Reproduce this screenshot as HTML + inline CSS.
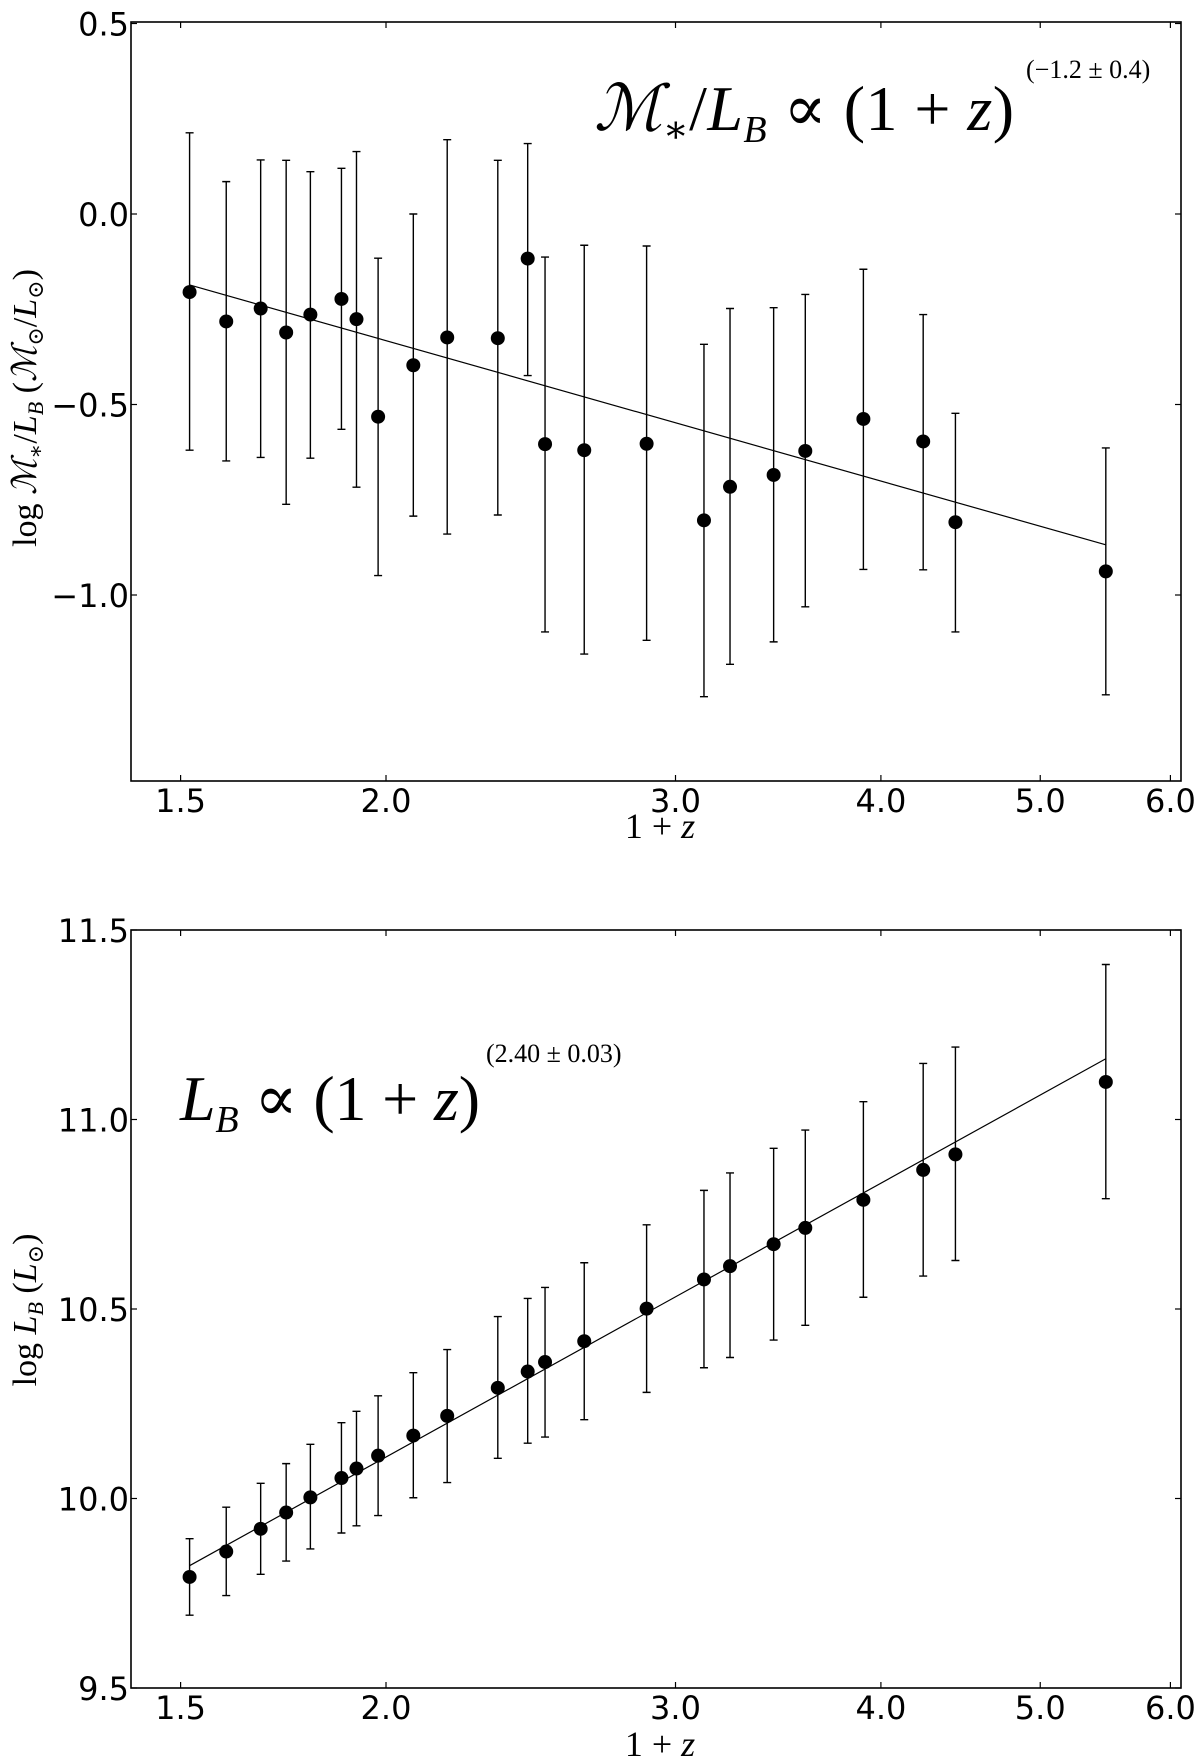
<!DOCTYPE html>
<html><head><meta charset="utf-8">
<style>
html,body{margin:0;padding:0;background:#fff;}
svg{display:block;}
.tick{font-family:"DejaVu Sans","Liberation Sans",sans-serif;font-size:32px;fill:#000;}
.math{font-family:"Liberation Serif","DejaVu Serif",serif;fill:#000;}
</style></head>
<body>
<svg id="fig" width="1200" height="1759" viewBox="0 0 1200 1759" xmlns="http://www.w3.org/2000/svg">
  <g id="top"></g>
  <g id="bot"></g>
  <text class="math" x="594" y="130" font-size="64" textLength="420" lengthAdjust="spacing"><tspan font-style="italic">ℳ</tspan><tspan font-size="38" dy="12">∗</tspan><tspan dy="-12">/</tspan><tspan font-style="italic">L</tspan><tspan font-style="italic" font-size="38" dy="12">B</tspan><tspan dy="-12"> ∝ (1 + </tspan><tspan font-style="italic">z</tspan><tspan>)</tspan></text>
  <text class="math" x="1026" y="78" font-size="26">(−1.2 ± 0.4)</text>
  <text class="math" x="180" y="1120" font-size="64" textLength="300" lengthAdjust="spacing"><tspan font-style="italic">L</tspan><tspan font-style="italic" font-size="38" dy="12">B</tspan><tspan dy="-12"> ∝ (1 + </tspan><tspan font-style="italic">z</tspan><tspan>)</tspan></text>
  <text class="math" x="486" y="1062" font-size="26">(2.40 ± 0.03)</text>
  <text class="math" x="660" y="838" font-size="36" text-anchor="middle">1 + <tspan font-style="italic">z</tspan></text>
  <text class="math" x="660" y="1756" font-size="36" text-anchor="middle">1 + <tspan font-style="italic">z</tspan></text>
  <text class="math" transform="translate(36,408) rotate(-90)" font-size="34" text-anchor="middle">log <tspan font-style="italic">ℳ</tspan><tspan font-size="22" dy="7">∗</tspan><tspan dy="-7">/</tspan><tspan font-style="italic">L</tspan><tspan font-style="italic" font-size="22" dy="7">B</tspan><tspan dy="-7"> (</tspan><tspan font-style="italic">ℳ</tspan><tspan font-size="22" dy="7">⊙</tspan><tspan dy="-7">/</tspan><tspan font-style="italic">L</tspan><tspan font-size="22" dy="7">⊙</tspan><tspan dy="-7">)</tspan></text>
  <text class="math" transform="translate(36,1310) rotate(-90)" font-size="34" text-anchor="middle">log <tspan font-style="italic">L</tspan><tspan font-style="italic" font-size="22" dy="7">B</tspan><tspan dy="-7"> (</tspan><tspan font-style="italic">L</tspan><tspan font-size="22" dy="7">⊙</tspan><tspan dy="-7">)</tspan></text>
</svg>
<script>
const xVals = [1.519,1.599,1.678,1.739,1.799,1.879,1.919,1.978,2.078,2.179,2.339,2.439,2.499,2.640,2.881,3.122,3.238,3.442,3.598,3.903,4.244,4.440,5.481];
const mlVals = [-0.205,-0.282,-0.248,-0.311,-0.264,-0.223,-0.276,-0.532,-0.397,-0.324,-0.326,-0.117,-0.604,-0.620,-0.603,-0.804,-0.716,-0.685,-0.622,-0.538,-0.597,-0.809,-0.938];
const mlUpper = [0.213,0.085,0.142,0.141,0.111,0.120,0.164,-0.116,0.0,0.195,0.141,0.185,-0.113,-0.082,-0.084,-0.342,-0.248,-0.246,-0.211,-0.145,-0.264,-0.523,-0.614];
const mlLower = [-0.620,-0.648,-0.639,-0.762,-0.641,-0.565,-0.717,-0.949,-0.793,-0.840,-0.790,-0.424,-1.097,-1.155,-1.119,-1.267,-1.182,-1.123,-1.031,-0.933,-0.934,-1.097,-1.262];
const lbVals = [9.793,9.860,9.920,9.963,10.003,10.054,10.079,10.113,10.166,10.218,10.292,10.335,10.360,10.415,10.501,10.578,10.613,10.671,10.714,10.788,10.867,10.908,11.099];
const lbUpper = [9.894,9.977,10.040,10.092,10.143,10.200,10.230,10.271,10.332,10.393,10.480,10.528,10.557,10.622,10.722,10.813,10.859,10.924,10.972,11.047,11.148,11.191,11.409];
const lbLower = [9.692,9.744,9.800,9.835,9.867,9.909,9.928,9.955,10.002,10.042,10.106,10.146,10.162,10.208,10.280,10.345,10.372,10.418,10.457,10.531,10.587,10.628,10.791];
const xTicks = [1.5,2.0,3.0,4.0,5.0,6.0];
const xTickLabels = ["1.5","2.0","3.0","4.0","5.0","6.0"];
const mlTicks = [0.5,0.0,-0.5,-1.0];
const mlTickLabels = ["0.5","0.0","\u22120.5","\u22121.0"];
const lbTicks = [11.5,11.0,10.5,10.0,9.5];
const lbTickLabels = ["11.5","11.0","10.5","10.0","9.5"];
const mlFit = [0.036,-1.224];
const lbFit = [9.387,2.40];

const NS="http://www.w3.org/2000/svg";
function mk(parent,tag,attrs){const e=document.createElementNS(NS,tag);for(const k in attrs)e.setAttribute(k,attrs[k]);parent.appendChild(e);return e;}
const L=131, R=1181;
function xs(v){return 180.6+714*Math.log(v/1.5);}

function panel(g,top,bottom,y0px,y0val,ppu,vals,up,lo,fit,ticks,tickLabels,pfx){
  const ys=v=>y0px-(v-y0val)*ppu;
  const fr=mk(g,'rect',{x:L,y:top,width:R-L,height:bottom-top,fill:'none',stroke:'#000','stroke-width':1.6});
  
  
  xTicks.forEach((t,i)=>{
    const x=xs(t);
    const a=mk(g,'line',{x1:x,x2:x,y1:bottom,y2:bottom-6,stroke:'#000','stroke-width':1.2});
    
    
    const b=mk(g,'line',{x1:x,x2:x,y1:top,y2:top+6,stroke:'#000','stroke-width':1.2});
    
    
    const tx=mk(g,'text',{x:x,y:bottom+31,'text-anchor':'middle','class':'tick'});
    tx.textContent=xTickLabels[i];
    
    
  });
  ticks.forEach((t,i)=>{
    const y=ys(t);
    const a=mk(g,'line',{x1:L,x2:L+6,y1:y,y2:y,stroke:'#000','stroke-width':1.2});
    
    
    const b=mk(g,'line',{x1:R,x2:R-6,y1:y,y2:y,stroke:'#000','stroke-width':1.2});
    
    
    const tx=mk(g,'text',{x:L-2,y:y+12,'text-anchor':'end','class':'tick'});
    tx.textContent=tickLabels[i];
    
    
  });
  const x1=xVals[0], x2=xVals[xVals.length-1];
  const fl=mk(g,'line',{x1:xs(x1),x2:xs(x2),y1:ys(fit[0]+fit[1]*Math.log10(x1)),y2:ys(fit[0]+fit[1]*Math.log10(x2)),stroke:'#000','stroke-width':1.2});
  
  
  xVals.forEach((xv,i)=>{
    const x=xs(xv);
    const eb=mk(g,'path',{d:`M${x},${ys(up[i])}V${ys(lo[i])}M${x-4},${ys(up[i])}H${x+4}M${x-4},${ys(lo[i])}H${x+4}`,stroke:'#000','stroke-width':1.4,fill:'none'});
    
    
    const c=mk(g,'circle',{cx:x,cy:ys(vals[i]),r:7,fill:'#000'});
    
    
  });
}
panel(document.getElementById('top'),22,781,214,0.0,381,mlVals,mlUpper,mlLower,mlFit,mlTicks,mlTickLabels,'top');
panel(document.getElementById('bot'),930,1688,1688,9.5,379,lbVals,lbUpper,lbLower,lbFit,lbTicks,lbTickLabels,'bottom');
</script>
</body></html>
